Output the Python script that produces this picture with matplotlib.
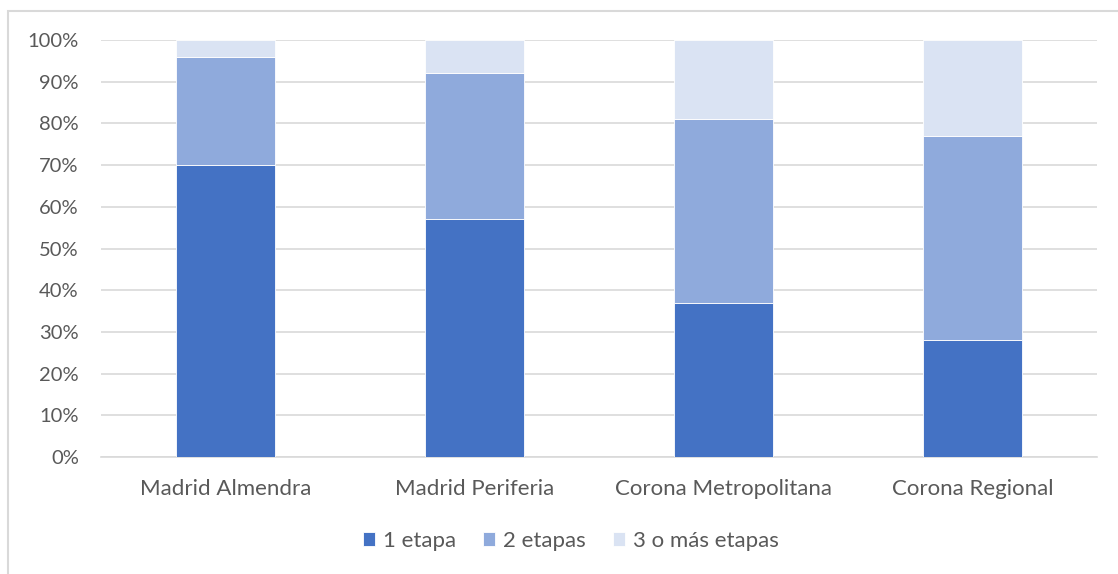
import matplotlib
matplotlib.use("Agg")
import matplotlib.pyplot as plt
from matplotlib.patches import Rectangle
from matplotlib.ticker import PercentFormatter

# share of trips by number of stages, per zone (%)
zonas = ["Madrid Almendra", "Madrid Periferia", "Corona Metropolitana", "Corona Regional"]
una_etapa = [70, 57, 37, 28]
dos_etapas = [26, 35, 44, 49]
tres_mas = [4, 8, 19, 23]

series = ["1 etapa", "2 etapas", "3 o más etapas"]
colores = ["#4472C4", "#8FAADC", "#DAE3F3"]

plt.rcParams['font.family'] = ['Lato', 'DejaVu Sans']

fig = plt.figure(figsize=(11.18, 5.74), dpi=100)
ax = fig.add_axes([101/1118, 1 - 457/574, 996/1118, 417/574])

x = range(len(zonas))
bottom = [0] * len(zonas)
for vals, name, col in zip([una_etapa, dos_etapas, tres_mas], series, colores):
    ax.bar(x, vals, width=0.4, bottom=bottom, color=col, label=name,
           edgecolor="white", linewidth=0.6, zorder=3)
    bottom = [b + v for b, v in zip(bottom, vals)]

ax.set_xlim(-0.5, 3.5)
ax.set_ylim(0, 100)
ax.set_yticks(range(0, 101, 10))
ax.yaxis.set_major_formatter(PercentFormatter(decimals=0))
ax.set_xticks(list(x))
ax.set_xticklabels(zonas)

ax.grid(axis="y", color="#D9D9D9", linewidth=1.2, zorder=0)
for side in ["top", "right", "left"]:
    ax.spines[side].set_visible(False)
ax.spines["bottom"].set_color("#D9D9D9")
ax.spines["bottom"].set_linewidth(1.2)
ax.tick_params(axis="both", length=0, colors="#595959")
ax.tick_params(axis="y", pad=16, labelsize=14.5)
ax.tick_params(axis="x", pad=16, labelsize=16)

leg = fig.legend(loc="center", bbox_to_anchor=(571/1118, 1 - 541/574), ncol=3,
                 frameon=False, fontsize=16, handlelength=0.55, handleheight=0.55,
                 handletextpad=0.36, columnspacing=1.2)
for t in leg.get_texts():
    t.set_color("#595959")

# chart area border
fig.patches.append(Rectangle((8/1118, -0.1), 1.2, 1 - 11/574 + 0.1,
                             transform=fig.transFigure, fill=False,
                             edgecolor="#D9D9D9", linewidth=1.5))

fig.savefig("out.png", dpi=100)
